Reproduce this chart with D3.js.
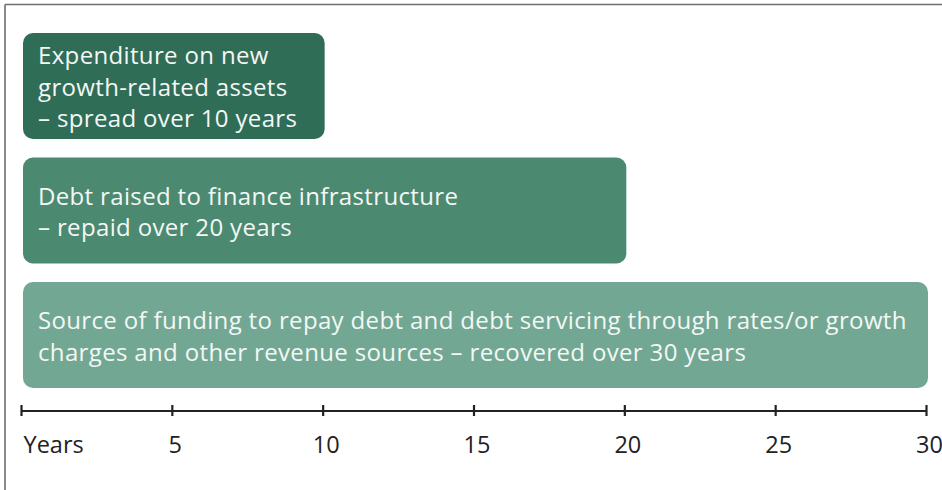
<!DOCTYPE html>
<html>
<head>
<meta charset="utf-8">
<script src="https://cdn.jsdelivr.net/npm/d3@7"></script>
<style>
  html, body { margin: 0; padding: 0; background: #fff; }
  svg { display: block; font-family: "Open Sans", "Noto Sans", sans-serif; }
</style>
</head>
<body>
<svg id="chart" width="942" height="490"></svg>
<script>
// ---- data ----
const categories = ["expenditure", "debt", "funding"];
const durations = [10, 20, 30];
const labelLines = [
  ["Expenditure on new", "growth-related assets", "\u2013 spread over 10 years"],
  ["Debt raised to finance infrastructure", "\u2013 repaid over 20 years"],
  ["Source of funding to repay debt and debt servicing through rates/or growth",
   "charges and other revenue sources \u2013 recovered over 30 years"]
];
const tickValues = [0, 5, 10, 15, 20, 25, 30];
const tickLabels = ["Years", "5", "10", "15", "20", "25", "30"];
const barColors = ["#2f6d57", "#4b8a71", "#72a893"];

// ---- layout ----
const svg = d3.select("#chart");
const W = 942, H = 490;

// frame (top and left edges visible)
svg.append("line").attr("x1", 5).attr("y1", 4.5).attr("x2", W).attr("y2", 4.5)
  .attr("stroke", "#6e6e6e").attr("stroke-width", 1.6);
svg.append("line").attr("x1", 5).attr("y1", 4.5).attr("x2", 5).attr("y2", H)
  .attr("stroke", "#6e6e6e").attr("stroke-width", 1.6);

const x = d3.scaleLinear().domain([0, 30]).range([21, 926]);
const y = d3.scaleBand().domain(categories).range([33, 388]).paddingInner(0.15).paddingOuter(0);

const fontSize = 24;
const lineH = 31.5;

const g = svg.append("g");
const bars = g.selectAll("g.bar").data(categories).join("g").attr("class", "bar");

bars.append("rect")
  .attr("x", x(0) + 2)
  .attr("y", d => y(d))
  .attr("width", (d, i) => x(durations[i]) - x(0))
  .attr("height", y.bandwidth())
  .attr("rx", 10).attr("ry", 10)
  .attr("fill", (d, i) => barColors[i]);

bars.each(function(d, i) {
  const lines = labelLines[i];
  const cy = y(d) + y.bandwidth() / 2;
  const firstBaseline = cy - (lines.length - 1) * lineH / 2 + 10;
  const t = d3.select(this).append("text")
    .attr("fill", "#f4f7f5")
    .attr("font-size", fontSize)
    .attr("letter-spacing", 0.35);
  lines.forEach((ln, k) => {
    t.append("tspan")
      .attr("x", x(0) + 17)
      .attr("y", firstBaseline + k * lineH)
      .text(ln);
  });
});

// axis
const axis = d3.axisBottom(x)
  .tickValues(tickValues)
  .tickFormat((d, i) => tickLabels[i])
  .tickSize(0)
  .tickPadding(0);

const ax = svg.append("g").attr("transform", "translate(0,410.5)").call(axis);
ax.select(".domain").attr("stroke", "#222").attr("stroke-width", 2.2);
ax.selectAll(".tick line")
  .attr("y1", -5.5).attr("y2", 5.5)
  .attr("stroke", "#222").attr("stroke-width", 2.2);
ax.selectAll(".tick text")
  .attr("font-family", "'Open Sans', 'Noto Sans', sans-serif")
  .attr("font-size", 23.5)
  .attr("fill", "#222")
  .attr("y", 42)
  .attr("dy", 0)
  .attr("dx", (d) => d === 0 ? 0 : 3)
  .attr("x", (d) => d === 0 ? 2 : 0)
  .attr("text-anchor", (d) => d === 0 ? "start" : "middle");
</script>
</body>
</html>
